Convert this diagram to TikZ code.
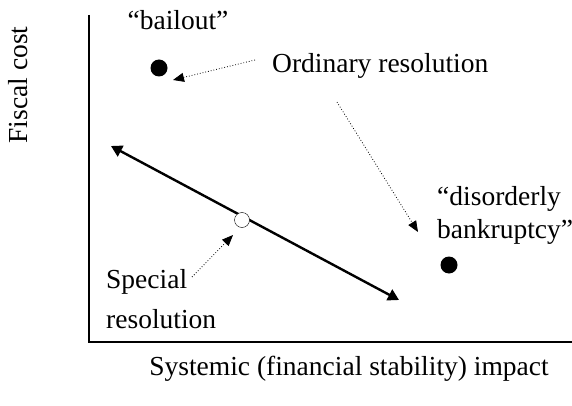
\documentclass[tikz,border=0pt]{standalone}
\usepackage{fontspec}
\setmainfont{Liberation Serif}
\usetikzlibrary{arrows.meta}
\usetikzlibrary{positioning}
\tikzstyle{label_text}=[font=\fontsize{27.5}{33}\selectfont, inner sep=0pt]
\tikzstyle{outcome}=[circle, fill=black, minimum size=17, inner sep=0pt]
\tikzstyle{special_point}=[circle, draw=black, fill=white, minimum size=15, inner sep=0pt]
\tikzstyle{pointer}=[dotted, line width=0.8, -{Triangle[length=11,width=9]}]
\tikzstyle{tradeoff}=[line width=2.4, {Triangle[length=11,width=12]}-{Triangle[length=11,width=12]}]

\begin{document}
\begin{tikzpicture}[x=1pt,y=-1pt]
  \useasboundingbox (0,0) rectangle (572,406);
  % axes
  \coordinate (ytop) at (89,15);
  \coordinate (orig) at (89,342);
  \coordinate (xend) at (572,342);
  \draw[line width=1.2](ytop) -- (orig) -- (xend);
  \node[label_text, rotate=90] (ylab) at (18,85){Fiscal cost};
  \node[label_text] (xlab) at (349,369){Systemic (financial stability) impact};
  % outcomes
  \node[label_text] (bailtxt) at (178,20){``bailout''};
  \node[outcome] (bailout) at (159,68){};
  \node[outcome] (bankrupt) at (449,265){};
  \node[label_text, anchor=north west, align=left] (bankrtxt) at (437,186){``disorderly\\bankruptcy''};
  \node[label_text, anchor=west] (ordinary) at (272,66){Ordinary resolution};
  \node[label_text, anchor=north west, align=left, font=\fontsize{27.5}{40}\selectfont] (specialtxt) at (106,269){Special\\resolution};
  % special resolution line
  \coordinate (lineup) at (111,146);
  \coordinate (linedown) at (399,300);
  \draw[tradeoff](lineup) -- (linedown);
  \node[special_point] (special) at (242,220){};
  % pointers
  \coordinate (frombail) at (255,60);
  \coordinate (tipbail) at (173,80);
  \coordinate (frombank) at (337,102);
  \coordinate (tipbank) at (418,232);
  \coordinate (fromspec) at (192,277);
  \coordinate (tipspec) at (233,235);
  \draw[pointer](frombail) -- (tipbail);
  \draw[pointer](frombank) -- (tipbank);
  \draw[pointer](fromspec) -- (tipspec);
\end{tikzpicture}
\end{document}
